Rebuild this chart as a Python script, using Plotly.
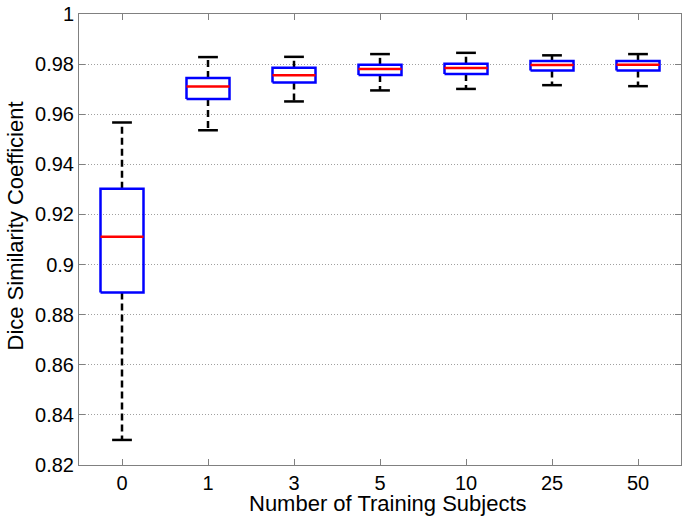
import plotly.graph_objects as go

categories = ["0", "1", "3", "5", "10", "25", "50"]
lower_whisker = [0.8300, 0.9536, 0.9651, 0.9695, 0.9701, 0.9716, 0.9712]
q1 = [0.8888, 0.9661, 0.9727, 0.9757, 0.9761, 0.9775, 0.9775]
median = [0.9111, 0.9711, 0.9756, 0.9780, 0.9784, 0.9796, 0.9797]
q3 = [0.9303, 0.9745, 0.9785, 0.9797, 0.9801, 0.9812, 0.9812]
upper_whisker = [0.9567, 0.9828, 0.9829, 0.9840, 0.9845, 0.9835, 0.9840]

y_ticks = [0.82, 0.84, 0.86, 0.88, 0.9, 0.92, 0.94, 0.96, 0.98, 1.0]
y_tick_text = ["0.82", "0.84", "0.86", "0.88", "0.9", "0.92", "0.94", "0.96", "0.98", "1"]

x_title = "Number of Training Subjects"
y_title = "Dice Similarity Coefficient"

BOX_HW = 0.25
CAP_HW = 0.115

wx, wy, cx, cy, bx, by, mx, my = [], [], [], [], [], [], [], []
for i in range(len(categories)):
    wx += [i, i, None, i, i, None]
    wy += [q3[i], upper_whisker[i], None, q1[i], lower_whisker[i], None]
    cx += [i - CAP_HW, i + CAP_HW, None, i - CAP_HW, i + CAP_HW, None]
    cy += [upper_whisker[i], upper_whisker[i], None, lower_whisker[i], lower_whisker[i], None]
    bx += [i - BOX_HW, i + BOX_HW, i + BOX_HW, i - BOX_HW, i - BOX_HW, None]
    by += [q1[i], q1[i], q3[i], q3[i], q1[i], None]
    mx += [i - BOX_HW, i + BOX_HW, None]
    my += [median[i], median[i], None]

fig = go.Figure()
fig.add_trace(go.Scatter(x=wx, y=wy, mode="lines",
                         line=dict(color="black", width=2.5, dash="7px,4px"),
                         hoverinfo="skip"))
fig.add_trace(go.Scatter(x=cx, y=cy, mode="lines",
                         line=dict(color="black", width=2.5), hoverinfo="skip"))
fig.add_trace(go.Scatter(x=bx, y=by, mode="lines",
                         line=dict(color="#0000ff", width=2.5), hoverinfo="skip"))
fig.add_trace(go.Scatter(x=mx, y=my, mode="lines",
                         line=dict(color="#ff0000", width=2.5), hoverinfo="skip"))

font = "Liberation Sans, Arial, sans-serif"
fig.update_layout(
    width=688, height=520,
    margin=dict(l=79, r=7, t=14, b=55),
    paper_bgcolor="white", plot_bgcolor="white",
    showlegend=False,
    font=dict(family=font, size=20, color="black"),
    xaxis=dict(
        range=[-0.5, 6.5],
        tickmode="array",
        tickvals=list(range(len(categories))),
        ticktext=categories,
        ticks="inside", ticklen=6, tickcolor="#808080",
        showline=True, linecolor="#808080", linewidth=1, mirror="ticks",
        showgrid=False, zeroline=False, automargin=False,
        tickfont=dict(size=20), ticklabeloverflow="allow",
    ),
    yaxis=dict(
        range=[0.82, 1.0],
        tickmode="array",
        tickvals=y_ticks,
        ticktext=y_tick_text,
        ticks="inside", ticklen=6, tickcolor="#808080",
        showline=True, linecolor="#808080", linewidth=1, mirror="ticks",
        showgrid=True, gridcolor="#a0a0a0", griddash="1px,2px", gridwidth=1,
        zeroline=False, automargin=False,
        tickfont=dict(size=20), ticklabeloverflow="allow",
    ),
    annotations=[
        dict(text=x_title, xref="paper", yref="paper", x=0.513, y=0,
             xanchor="center", yanchor="middle", yshift=-38.5,
             showarrow=False, font=dict(size=22)),
        dict(text=y_title, xref="paper", yref="paper", x=0, y=0.5,
             xanchor="center", yanchor="middle", xshift=-64, yshift=13,
             textangle=-90, showarrow=False, font=dict(size=22)),
    ],
)

fig.write_html(
    "out.html",
    config={"displayModeBar": False},
    post_script="document.body.style.margin='0';document.body.style.overflow='hidden';",
)
